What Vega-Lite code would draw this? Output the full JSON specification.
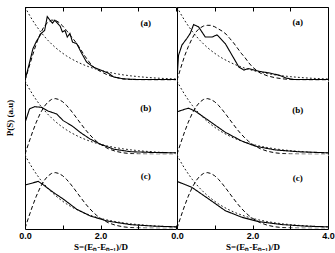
{
  "$schema": "https://vega.github.io/schema/vega-lite/v6.json",
  "background": "white",
  "padding": {"left": 5, "top": 6, "right": 0, "bottom": 0},
  "config": {"view": {"stroke": null}, "font": "Liberation Serif"},
  "datasets": {
    "d": [
      {"c":"L","r":"(a)","lx":3.2,"ly":0.78},
      {"c":"L","r":"(b)","lx":3.2,"ly":0.63},
      {"c":"L","r":"(c)","lx":3.2,"ly":0.71},
      {"c":"R","r":"(a)","lx":3.2,"ly":0.79},
      {"c":"R","r":"(b)","lx":3.2,"ly":0.6},
      {"c":"R","r":"(c)","lx":3.2,"ly":0.69},

      {"c":"L","r":"(a)","s":0,"th":0,"poi":1},
      {"c":"L","r":"(a)","s":0.1,"th":0.17,"poi":0.905},
      {"c":"L","r":"(a)","s":0.2,"th":0.34,"poi":0.819},
      {"c":"L","r":"(a)","s":0.3,"th":0.5,"poi":0.741},
      {"c":"L","r":"(a)","s":0.4,"th":0.63,"poi":0.67},
      {"c":"L","r":"(a)","s":0.5,"th":0.73,"poi":0.607},
      {"c":"L","r":"(a)","s":0.6,"th":0.79,"poi":0.549},
      {"c":"L","r":"(a)","s":0.7,"th":0.82,"poi":0.497},
      {"c":"L","r":"(a)","s":0.8,"th":0.82,"poi":0.449},
      {"c":"L","r":"(a)","s":0.9,"th":0.79,"poi":0.407},
      {"c":"L","r":"(a)","s":1.0,"th":0.74,"poi":0.368},
      {"c":"L","r":"(a)","s":1.1,"th":0.68,"poi":0.333},
      {"c":"L","r":"(a)","s":1.2,"th":0.61,"poi":0.301},
      {"c":"L","r":"(a)","s":1.3,"th":0.55,"poi":0.273},
      {"c":"L","r":"(a)","s":1.4,"th":0.48,"poi":0.247},
      {"c":"L","r":"(a)","s":1.5,"th":0.4,"poi":0.223},
      {"c":"L","r":"(a)","s":1.6,"th":0.32,"poi":0.202},
      {"c":"L","r":"(a)","s":1.7,"th":0.25,"poi":0.183},
      {"c":"L","r":"(a)","s":1.8,"th":0.19,"poi":0.165},
      {"c":"L","r":"(a)","s":1.9,"th":0.15,"poi":0.15},
      {"c":"L","r":"(a)","s":2.0,"th":0.12,"poi":0.135},
      {"c":"L","r":"(a)","s":2.2,"th":0.07,"poi":0.111},
      {"c":"L","r":"(a)","s":2.4,"th":0.04,"poi":0.091},
      {"c":"L","r":"(a)","s":2.6,"th":0.02,"poi":0.074},
      {"c":"L","r":"(a)","s":2.8,"th":0.01,"poi":0.061},
      {"c":"L","r":"(a)","s":3.0,"th":0.005,"poi":0.05},
      {"c":"L","r":"(a)","s":3.2,"th":0.002,"poi":0.041},
      {"c":"L","r":"(a)","s":3.4,"th":0,"poi":0.033},
      {"c":"L","r":"(a)","s":3.6,"th":0,"poi":0.027},
      {"c":"L","r":"(a)","s":3.8,"th":0,"poi":0.022},
      {"c":"L","r":"(a)","s":4.0,"th":0,"poi":0.018},

      {"c":"R","r":"(a)","s":0,"th":0,"poi":1},
      {"c":"R","r":"(a)","s":0.1,"th":0.17,"poi":0.905},
      {"c":"R","r":"(a)","s":0.2,"th":0.33,"poi":0.819},
      {"c":"R","r":"(a)","s":0.3,"th":0.46,"poi":0.741},
      {"c":"R","r":"(a)","s":0.4,"th":0.57,"poi":0.67},
      {"c":"R","r":"(a)","s":0.5,"th":0.66,"poi":0.607},
      {"c":"R","r":"(a)","s":0.6,"th":0.71,"poi":0.549},
      {"c":"R","r":"(a)","s":0.7,"th":0.74,"poi":0.497},
      {"c":"R","r":"(a)","s":0.8,"th":0.75,"poi":0.449},
      {"c":"R","r":"(a)","s":0.9,"th":0.75,"poi":0.407},
      {"c":"R","r":"(a)","s":1.0,"th":0.73,"poi":0.368},
      {"c":"R","r":"(a)","s":1.1,"th":0.7,"poi":0.333},
      {"c":"R","r":"(a)","s":1.2,"th":0.67,"poi":0.301},
      {"c":"R","r":"(a)","s":1.3,"th":0.63,"poi":0.273},
      {"c":"R","r":"(a)","s":1.4,"th":0.57,"poi":0.247},
      {"c":"R","r":"(a)","s":1.5,"th":0.51,"poi":0.223},
      {"c":"R","r":"(a)","s":1.6,"th":0.44,"poi":0.202},
      {"c":"R","r":"(a)","s":1.7,"th":0.37,"poi":0.183},
      {"c":"R","r":"(a)","s":1.8,"th":0.31,"poi":0.165},
      {"c":"R","r":"(a)","s":1.9,"th":0.24,"poi":0.15},
      {"c":"R","r":"(a)","s":2.0,"th":0.18,"poi":0.135},
      {"c":"R","r":"(a)","s":2.2,"th":0.1,"poi":0.111},
      {"c":"R","r":"(a)","s":2.4,"th":0.06,"poi":0.091},
      {"c":"R","r":"(a)","s":2.6,"th":0.035,"poi":0.074},
      {"c":"R","r":"(a)","s":2.8,"th":0.02,"poi":0.061},
      {"c":"R","r":"(a)","s":3.0,"th":0.01,"poi":0.05},
      {"c":"R","r":"(a)","s":3.2,"th":0.005,"poi":0.041},
      {"c":"R","r":"(a)","s":3.4,"th":0.002,"poi":0.033},
      {"c":"R","r":"(a)","s":3.6,"th":0,"poi":0.027},
      {"c":"R","r":"(a)","s":3.8,"th":0,"poi":0.022},
      {"c":"R","r":"(a)","s":4.0,"th":0,"poi":0.018},

      {"c":"L","r":"(b)","s":0,"th":0,"poi":1},
      {"c":"L","r":"(b)","s":0.1,"th":0.156,"poi":0.905},
      {"c":"L","r":"(b)","s":0.2,"th":0.305,"poi":0.819},
      {"c":"L","r":"(b)","s":0.3,"th":0.439,"poi":0.741},
      {"c":"L","r":"(b)","s":0.4,"th":0.554,"poi":0.67},
      {"c":"L","r":"(b)","s":0.5,"th":0.646,"poi":0.607},
      {"c":"L","r":"(b)","s":0.6,"th":0.71,"poi":0.549},
      {"c":"L","r":"(b)","s":0.7,"th":0.748,"poi":0.497},
      {"c":"L","r":"(b)","s":0.8,"th":0.76,"poi":0.449},
      {"c":"L","r":"(b)","s":0.9,"th":0.748,"poi":0.407},
      {"c":"L","r":"(b)","s":1.0,"th":0.716,"poi":0.368},
      {"c":"L","r":"(b)","s":1.1,"th":0.668,"poi":0.333},
      {"c":"L","r":"(b)","s":1.2,"th":0.608,"poi":0.301},
      {"c":"L","r":"(b)","s":1.3,"th":0.542,"poi":0.273},
      {"c":"L","r":"(b)","s":1.4,"th":0.472,"poi":0.247},
      {"c":"L","r":"(b)","s":1.5,"th":0.403,"poi":0.223},
      {"c":"L","r":"(b)","s":1.6,"th":0.336,"poi":0.202},
      {"c":"L","r":"(b)","s":1.7,"th":0.276,"poi":0.183},
      {"c":"L","r":"(b)","s":1.8,"th":0.222,"poi":0.165},
      {"c":"L","r":"(b)","s":1.9,"th":0.175,"poi":0.15},
      {"c":"L","r":"(b)","s":2.0,"th":0.136,"poi":0.135},
      {"c":"L","r":"(b)","s":2.2,"th":0.077,"poi":0.111},
      {"c":"L","r":"(b)","s":2.4,"th":0.041,"poi":0.091},
      {"c":"L","r":"(b)","s":2.6,"th":0.02,"poi":0.074},
      {"c":"L","r":"(b)","s":2.8,"th":0.009,"poi":0.061},
      {"c":"L","r":"(b)","s":3.0,"th":0.004,"poi":0.05},
      {"c":"L","r":"(b)","s":3.2,"th":0.002,"poi":0.041},
      {"c":"L","r":"(b)","s":3.4,"th":0.001,"poi":0.033},
      {"c":"L","r":"(b)","s":3.6,"th":0,"poi":0.027},
      {"c":"L","r":"(b)","s":3.8,"th":0,"poi":0.022},
      {"c":"L","r":"(b)","s":4.0,"th":0,"poi":0.018},

      {"c":"R","r":"(b)","s":0,"th":0,"poi":1},
      {"c":"R","r":"(b)","s":0.1,"th":0.156,"poi":0.905},
      {"c":"R","r":"(b)","s":0.2,"th":0.305,"poi":0.819},
      {"c":"R","r":"(b)","s":0.3,"th":0.439,"poi":0.741},
      {"c":"R","r":"(b)","s":0.4,"th":0.554,"poi":0.67},
      {"c":"R","r":"(b)","s":0.5,"th":0.646,"poi":0.607},
      {"c":"R","r":"(b)","s":0.6,"th":0.71,"poi":0.549},
      {"c":"R","r":"(b)","s":0.7,"th":0.748,"poi":0.497},
      {"c":"R","r":"(b)","s":0.8,"th":0.76,"poi":0.449},
      {"c":"R","r":"(b)","s":0.9,"th":0.748,"poi":0.407},
      {"c":"R","r":"(b)","s":1.0,"th":0.716,"poi":0.368},
      {"c":"R","r":"(b)","s":1.1,"th":0.668,"poi":0.333},
      {"c":"R","r":"(b)","s":1.2,"th":0.608,"poi":0.301},
      {"c":"R","r":"(b)","s":1.3,"th":0.542,"poi":0.273},
      {"c":"R","r":"(b)","s":1.4,"th":0.472,"poi":0.247},
      {"c":"R","r":"(b)","s":1.5,"th":0.403,"poi":0.223},
      {"c":"R","r":"(b)","s":1.6,"th":0.336,"poi":0.202},
      {"c":"R","r":"(b)","s":1.7,"th":0.276,"poi":0.183},
      {"c":"R","r":"(b)","s":1.8,"th":0.222,"poi":0.165},
      {"c":"R","r":"(b)","s":1.9,"th":0.175,"poi":0.15},
      {"c":"R","r":"(b)","s":2.0,"th":0.136,"poi":0.135},
      {"c":"R","r":"(b)","s":2.2,"th":0.077,"poi":0.111},
      {"c":"R","r":"(b)","s":2.4,"th":0.041,"poi":0.091},
      {"c":"R","r":"(b)","s":2.6,"th":0.02,"poi":0.074},
      {"c":"R","r":"(b)","s":2.8,"th":0.009,"poi":0.061},
      {"c":"R","r":"(b)","s":3.0,"th":0.004,"poi":0.05},
      {"c":"R","r":"(b)","s":3.2,"th":0.002,"poi":0.041},
      {"c":"R","r":"(b)","s":3.4,"th":0.001,"poi":0.033},
      {"c":"R","r":"(b)","s":3.6,"th":0,"poi":0.027},
      {"c":"R","r":"(b)","s":3.8,"th":0,"poi":0.022},
      {"c":"R","r":"(b)","s":4.0,"th":0,"poi":0.018},

      {"c":"L","r":"(c)","s":0,"th":0,"poi":1},
      {"c":"L","r":"(c)","s":0.1,"th":0.156,"poi":0.905},
      {"c":"L","r":"(c)","s":0.2,"th":0.305,"poi":0.819},
      {"c":"L","r":"(c)","s":0.3,"th":0.439,"poi":0.741},
      {"c":"L","r":"(c)","s":0.4,"th":0.554,"poi":0.67},
      {"c":"L","r":"(c)","s":0.5,"th":0.646,"poi":0.607},
      {"c":"L","r":"(c)","s":0.6,"th":0.71,"poi":0.549},
      {"c":"L","r":"(c)","s":0.7,"th":0.748,"poi":0.497},
      {"c":"L","r":"(c)","s":0.8,"th":0.76,"poi":0.449},
      {"c":"L","r":"(c)","s":0.9,"th":0.748,"poi":0.407},
      {"c":"L","r":"(c)","s":1.0,"th":0.716,"poi":0.368},
      {"c":"L","r":"(c)","s":1.1,"th":0.668,"poi":0.333},
      {"c":"L","r":"(c)","s":1.2,"th":0.608,"poi":0.301},
      {"c":"L","r":"(c)","s":1.3,"th":0.542,"poi":0.273},
      {"c":"L","r":"(c)","s":1.4,"th":0.472,"poi":0.247},
      {"c":"L","r":"(c)","s":1.5,"th":0.403,"poi":0.223},
      {"c":"L","r":"(c)","s":1.6,"th":0.336,"poi":0.202},
      {"c":"L","r":"(c)","s":1.7,"th":0.276,"poi":0.183},
      {"c":"L","r":"(c)","s":1.8,"th":0.222,"poi":0.165},
      {"c":"L","r":"(c)","s":1.9,"th":0.175,"poi":0.15},
      {"c":"L","r":"(c)","s":2.0,"th":0.136,"poi":0.135},
      {"c":"L","r":"(c)","s":2.2,"th":0.077,"poi":0.111},
      {"c":"L","r":"(c)","s":2.4,"th":0.041,"poi":0.091},
      {"c":"L","r":"(c)","s":2.6,"th":0.02,"poi":0.074},
      {"c":"L","r":"(c)","s":2.8,"th":0.009,"poi":0.061},
      {"c":"L","r":"(c)","s":3.0,"th":0.004,"poi":0.05},
      {"c":"L","r":"(c)","s":3.2,"th":0.002,"poi":0.041},
      {"c":"L","r":"(c)","s":3.4,"th":0.001,"poi":0.033},
      {"c":"L","r":"(c)","s":3.6,"th":0,"poi":0.027},
      {"c":"L","r":"(c)","s":3.8,"th":0,"poi":0.022},
      {"c":"L","r":"(c)","s":4.0,"th":0,"poi":0.018},

      {"c":"R","r":"(c)","s":0,"th":0,"poi":1},
      {"c":"R","r":"(c)","s":0.1,"th":0.156,"poi":0.905},
      {"c":"R","r":"(c)","s":0.2,"th":0.305,"poi":0.819},
      {"c":"R","r":"(c)","s":0.3,"th":0.439,"poi":0.741},
      {"c":"R","r":"(c)","s":0.4,"th":0.554,"poi":0.67},
      {"c":"R","r":"(c)","s":0.5,"th":0.646,"poi":0.607},
      {"c":"R","r":"(c)","s":0.6,"th":0.71,"poi":0.549},
      {"c":"R","r":"(c)","s":0.7,"th":0.748,"poi":0.497},
      {"c":"R","r":"(c)","s":0.8,"th":0.76,"poi":0.449},
      {"c":"R","r":"(c)","s":0.9,"th":0.748,"poi":0.407},
      {"c":"R","r":"(c)","s":1.0,"th":0.716,"poi":0.368},
      {"c":"R","r":"(c)","s":1.1,"th":0.668,"poi":0.333},
      {"c":"R","r":"(c)","s":1.2,"th":0.608,"poi":0.301},
      {"c":"R","r":"(c)","s":1.3,"th":0.542,"poi":0.273},
      {"c":"R","r":"(c)","s":1.4,"th":0.472,"poi":0.247},
      {"c":"R","r":"(c)","s":1.5,"th":0.403,"poi":0.223},
      {"c":"R","r":"(c)","s":1.6,"th":0.336,"poi":0.202},
      {"c":"R","r":"(c)","s":1.7,"th":0.276,"poi":0.183},
      {"c":"R","r":"(c)","s":1.8,"th":0.222,"poi":0.165},
      {"c":"R","r":"(c)","s":1.9,"th":0.175,"poi":0.15},
      {"c":"R","r":"(c)","s":2.0,"th":0.136,"poi":0.135},
      {"c":"R","r":"(c)","s":2.2,"th":0.077,"poi":0.111},
      {"c":"R","r":"(c)","s":2.4,"th":0.041,"poi":0.091},
      {"c":"R","r":"(c)","s":2.6,"th":0.02,"poi":0.074},
      {"c":"R","r":"(c)","s":2.8,"th":0.009,"poi":0.061},
      {"c":"R","r":"(c)","s":3.0,"th":0.004,"poi":0.05},
      {"c":"R","r":"(c)","s":3.2,"th":0.002,"poi":0.041},
      {"c":"R","r":"(c)","s":3.4,"th":0.001,"poi":0.033},
      {"c":"R","r":"(c)","s":3.6,"th":0,"poi":0.027},
      {"c":"R","r":"(c)","s":3.8,"th":0,"poi":0.022},
      {"c":"R","r":"(c)","s":4.0,"th":0,"poi":0.018},

      {"c":"L","r":"(a)","s":0,"exp":0},
      {"c":"L","r":"(a)","s":0.1,"exp":0.2},
      {"c":"L","r":"(a)","s":0.21,"exp":0.43},
      {"c":"L","r":"(a)","s":0.3,"exp":0.53},
      {"c":"L","r":"(a)","s":0.35,"exp":0.57},
      {"c":"L","r":"(a)","s":0.43,"exp":0.64},
      {"c":"L","r":"(a)","s":0.52,"exp":0.68},
      {"c":"L","r":"(a)","s":0.59,"exp":0.87},
      {"c":"L","r":"(a)","s":0.66,"exp":0.82},
      {"c":"L","r":"(a)","s":0.73,"exp":0.78},
      {"c":"L","r":"(a)","s":0.79,"exp":0.82},
      {"c":"L","r":"(a)","s":0.86,"exp":0.78},
      {"c":"L","r":"(a)","s":0.93,"exp":0.74},
      {"c":"L","r":"(a)","s":0.99,"exp":0.66},
      {"c":"L","r":"(a)","s":1.06,"exp":0.68},
      {"c":"L","r":"(a)","s":1.12,"exp":0.59},
      {"c":"L","r":"(a)","s":1.19,"exp":0.64},
      {"c":"L","r":"(a)","s":1.26,"exp":0.52},
      {"c":"L","r":"(a)","s":1.37,"exp":0.5},
      {"c":"L","r":"(a)","s":1.5,"exp":0.37},
      {"c":"L","r":"(a)","s":1.63,"exp":0.25},
      {"c":"L","r":"(a)","s":1.81,"exp":0.18},
      {"c":"L","r":"(a)","s":2.0,"exp":0.14},
      {"c":"L","r":"(a)","s":2.2,"exp":0.1},
      {"c":"L","r":"(a)","s":2.35,"exp":0.045},
      {"c":"L","r":"(a)","s":2.6,"exp":0.02},
      {"c":"L","r":"(a)","s":3.0,"exp":0.01},
      {"c":"L","r":"(a)","s":4.0,"exp":0.01},

      {"c":"R","r":"(a)","s":0,"exp":0},
      {"c":"R","r":"(a)","s":0.04,"exp":0.34},
      {"c":"R","r":"(a)","s":0.13,"exp":0.48},
      {"c":"R","r":"(a)","s":0.26,"exp":0.57},
      {"c":"R","r":"(a)","s":0.35,"exp":0.64},
      {"c":"R","r":"(a)","s":0.44,"exp":0.76},
      {"c":"R","r":"(a)","s":0.57,"exp":0.73},
      {"c":"R","r":"(a)","s":0.75,"exp":0.59},
      {"c":"R","r":"(a)","s":0.93,"exp":0.59},
      {"c":"R","r":"(a)","s":1.06,"exp":0.62},
      {"c":"R","r":"(a)","s":1.28,"exp":0.5},
      {"c":"R","r":"(a)","s":1.46,"exp":0.34},
      {"c":"R","r":"(a)","s":1.64,"exp":0.18},
      {"c":"R","r":"(a)","s":1.77,"exp":0.14},
      {"c":"R","r":"(a)","s":1.9,"exp":0.16},
      {"c":"R","r":"(a)","s":2.2,"exp":0.12},
      {"c":"R","r":"(a)","s":2.45,"exp":0.1},
      {"c":"R","r":"(a)","s":2.7,"exp":0.07},
      {"c":"R","r":"(a)","s":2.9,"exp":0.03},
      {"c":"R","r":"(a)","s":3.1,"exp":0.01},
      {"c":"R","r":"(a)","s":4.0,"exp":0.01},

      {"c":"L","r":"(b)","s":0,"exp":0.43},
      {"c":"L","r":"(b)","s":0.12,"exp":0.62},
      {"c":"L","r":"(b)","s":0.26,"exp":0.65},
      {"c":"L","r":"(b)","s":0.44,"exp":0.64},
      {"c":"L","r":"(b)","s":0.61,"exp":0.59},
      {"c":"L","r":"(b)","s":0.84,"exp":0.55},
      {"c":"L","r":"(b)","s":1.01,"exp":0.46},
      {"c":"L","r":"(b)","s":1.24,"exp":0.39},
      {"c":"L","r":"(b)","s":1.46,"exp":0.3},
      {"c":"L","r":"(b)","s":1.72,"exp":0.21},
      {"c":"L","r":"(b)","s":1.99,"exp":0.14},
      {"c":"L","r":"(b)","s":2.35,"exp":0.07},
      {"c":"L","r":"(b)","s":2.8,"exp":0.035},
      {"c":"L","r":"(b)","s":3.4,"exp":0.025},
      {"c":"L","r":"(b)","s":4.0,"exp":0.02},

      {"c":"R","r":"(b)","s":0,"exp":0.58},
      {"c":"R","r":"(b)","s":0.3,"exp":0.63},
      {"c":"R","r":"(b)","s":0.48,"exp":0.59},
      {"c":"R","r":"(b)","s":0.84,"exp":0.46},
      {"c":"R","r":"(b)","s":1.28,"exp":0.3},
      {"c":"R","r":"(b)","s":1.72,"exp":0.18},
      {"c":"R","r":"(b)","s":2.08,"exp":0.11},
      {"c":"R","r":"(b)","s":2.6,"exp":0.06},
      {"c":"R","r":"(b)","s":3.2,"exp":0.035},
      {"c":"R","r":"(b)","s":4.0,"exp":0.02},

      {"c":"L","r":"(c)","s":0,"exp":0.59},
      {"c":"L","r":"(c)","s":0.35,"exp":0.64},
      {"c":"L","r":"(c)","s":0.44,"exp":0.61},
      {"c":"L","r":"(c)","s":0.75,"exp":0.49},
      {"c":"L","r":"(c)","s":1.01,"exp":0.4},
      {"c":"L","r":"(c)","s":1.37,"exp":0.26},
      {"c":"L","r":"(c)","s":1.72,"exp":0.17},
      {"c":"L","r":"(c)","s":2.17,"exp":0.1},
      {"c":"L","r":"(c)","s":2.8,"exp":0.05},
      {"c":"L","r":"(c)","s":3.4,"exp":0.03},
      {"c":"L","r":"(c)","s":4.0,"exp":0.02},

      {"c":"R","r":"(c)","s":0,"exp":0.64},
      {"c":"R","r":"(c)","s":0.39,"exp":0.56},
      {"c":"R","r":"(c)","s":0.84,"exp":0.4},
      {"c":"R","r":"(c)","s":1.28,"exp":0.24},
      {"c":"R","r":"(c)","s":1.72,"exp":0.15},
      {"c":"R","r":"(c)","s":2.17,"exp":0.09},
      {"c":"R","r":"(c)","s":2.8,"exp":0.05},
      {"c":"R","r":"(c)","s":3.4,"exp":0.03},
      {"c":"R","r":"(c)","s":4.0,"exp":0.02}
    ]
  },
  "spacing": -8,
  "hconcat": [
    {
      "data": {"name": "d"},
      "transform": [{"filter": "datum.c == 'L'"}],
      "facet": {"row": {"field": "r", "type": "nominal", "sort": "ascending", "title": "P(S) (a.u)",
        "header": {"labels": false, "labelPadding": 0, "titleFont": "Liberation Serif", "titleFontWeight": "bold", "titleFontSize": 9, "titleColor": "black", "titlePadding": 0}}},
      "spacing": {"row": 0},
      "spec": {
        "width": 151, "height": 73.3,
        "layer": [
          {
            "transform": [{"fold": ["exp", "th", "poi"], "as": ["k", "v"]}, {"filter": "isValid(datum.v)"}],
            "mark": {"type": "line", "color": "black", "clip": true},
            "encoding": {
              "x": {"field": "s", "type": "quantitative", "scale": {"domain": [0, 4], "nice": false},
                "axis": {"orient": "bottom", "values": [0, 1, 2, 3, 4], "format": ".1f", "labelExpr": "datum.value == 0 || datum.value == 2 ? datum.label : ''",
                  "tickSize": -4, "tickColor": "black", "domainColor": "black", "grid": false, "labelFlush": false, "labelOverlap": false,
                  "labelFont": "Liberation Sans", "labelFontWeight": "bold", "labelFontSize": 9, "labelColor": "black", "labelPadding": 6,
                  "title": "S=(Eₙ-Eₙ₋₁)/D", "titleFont": "Liberation Serif", "titleFontWeight": "bold", "titleFontSize": 9, "titleColor": "black", "titlePadding": 2}},
              "y": {"field": "v", "type": "quantitative", "scale": {"domain": [0, 1], "nice": false},
                "axis": {"orient": "left", "ticks": false, "labels": false, "title": null, "grid": false, "domainColor": "black"}},
              "strokeDash": {"field": "k", "type": "nominal", "scale": {"domain": ["exp", "th", "poi"], "range": [[1, 0], [4, 2.5], [1.8, 2.2]]}, "legend": null},
              "strokeWidth": {"field": "k", "type": "nominal", "scale": {"domain": ["exp", "th", "poi"], "range": [1.1, 0.9, 2.3]}, "legend": null}
            }
          },
          {
            "transform": [{"filter": "isValid(datum.ly)"}],
            "mark": {"type": "text", "font": "Liberation Serif", "fontWeight": "bold", "fontSize": 9, "color": "black"},
            "encoding": {
              "x": {"field": "lx", "type": "quantitative", "scale": {"domain": [0, 4], "nice": false},
                "axis": {"orient": "top", "values": [0, 1, 2, 3, 4], "labels": false, "tickSize": -4, "tickColor": "black", "domainColor": "black", "grid": false, "title": null}},
              "y": {"field": "ly", "type": "quantitative", "scale": {"domain": [0, 1], "nice": false},
                "axis": {"orient": "right", "ticks": false, "labels": false, "title": null, "grid": false, "domainColor": "black", "domainOpacity": 0}},
              "text": {"field": "r"}
            }
          }
        ]
      }
    },
    {
      "data": {"name": "d"},
      "transform": [{"filter": "datum.c == 'R'"}],
      "facet": {"row": {"field": "r", "type": "nominal", "sort": "ascending", "title": null,
        "header": {"labels": false, "labelPadding": 0}}},
      "spacing": {"row": 0},
      "spec": {
        "width": 151, "height": 73.3,
        "layer": [
          {
            "transform": [{"fold": ["exp", "th", "poi"], "as": ["k", "v"]}, {"filter": "isValid(datum.v)"}],
            "mark": {"type": "line", "color": "black", "clip": true},
            "encoding": {
              "x": {"field": "s", "type": "quantitative", "scale": {"domain": [0, 4], "nice": false},
                "axis": {"orient": "bottom", "values": [0, 1, 2, 3, 4], "format": ".1f", "labelExpr": "datum.value % 2 == 0 ? datum.label : ''",
                  "tickSize": -4, "tickColor": "black", "domainColor": "black", "grid": false, "labelFlush": false, "labelOverlap": false,
                  "labelFont": "Liberation Sans", "labelFontWeight": "bold", "labelFontSize": 9, "labelColor": "black", "labelPadding": 6,
                  "title": "S=(Eₙ-Eₙ₋₁)/D", "titleFont": "Liberation Serif", "titleFontWeight": "bold", "titleFontSize": 9, "titleColor": "black", "titlePadding": 2}},
              "y": {"field": "v", "type": "quantitative", "scale": {"domain": [0, 1], "nice": false},
                "axis": {"orient": "left", "ticks": false, "labels": false, "title": null, "grid": false, "domainColor": "black"}},
              "strokeDash": {"field": "k", "type": "nominal", "scale": {"domain": ["exp", "th", "poi"], "range": [[1, 0], [4, 2.5], [1.8, 2.2]]}, "legend": null},
              "strokeWidth": {"field": "k", "type": "nominal", "scale": {"domain": ["exp", "th", "poi"], "range": [1.1, 0.9, 2.3]}, "legend": null}
            }
          },
          {
            "transform": [{"filter": "isValid(datum.ly)"}],
            "mark": {"type": "text", "font": "Liberation Serif", "fontWeight": "bold", "fontSize": 9, "color": "black"},
            "encoding": {
              "x": {"field": "lx", "type": "quantitative", "scale": {"domain": [0, 4], "nice": false},
                "axis": {"orient": "top", "values": [0, 1, 2, 3, 4], "labels": false, "tickSize": -4, "tickColor": "black", "domainColor": "black", "grid": false, "title": null}},
              "y": {"field": "ly", "type": "quantitative", "scale": {"domain": [0, 1], "nice": false},
                "axis": {"orient": "right", "ticks": false, "labels": false, "title": null, "grid": false, "domainColor": "black"}},
              "text": {"field": "r"}
            }
          }
        ]
      }
    }
  ]
}
